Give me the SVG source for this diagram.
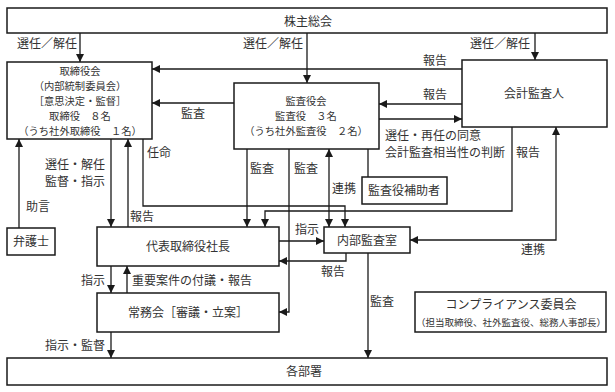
<svg xmlns="http://www.w3.org/2000/svg" width="615" height="392" viewBox="0 0 615 392">
<defs>
<style>
.box{fill:#fff;stroke:#1a1a1a;stroke-width:1.5}
.ln{fill:none;stroke:#1a1a1a;stroke-width:1.3}
.a{marker-end:url(#ah)}
.b{marker-start:url(#ah);marker-end:url(#ah)}
text{font-family:"Noto Sans CJK JP","Noto Sans CJK SC",sans-serif;font-size:12px;fill:#333}
.c{text-anchor:middle}
.s{font-size:10.3px}
.t{font-size:9.5px}
</style>
<marker id="ah" viewBox="0 0 10 10" refX="10" refY="5" markerWidth="8" markerHeight="8" orient="auto-start-reverse" markerUnits="userSpaceOnUse">
<path d="M0,0 L10,5 L0,10 z" fill="#1a1a1a"/>
</marker>
</defs>
<rect width="615" height="392" fill="#fff"/>

<g id="connectors">
<path class="ln a" d="M80,33 V62"/>
<path class="ln a" d="M307,33 V83"/>
<path class="ln a" d="M535,33 V60"/>
<path class="ln a" d="M462,69 H152"/>
<path class="ln a" d="M234,103 H152"/>
<path class="ln a" d="M462,104 H379"/>
<path class="ln a" d="M379,119 H462"/>
<path class="ln a" d="M512,127 V211 H265 V227"/>
<path class="ln b" d="M556,127 V240 H410"/>
<path class="ln b" d="M329,149 V227"/>
<path class="ln" d="M368,149 V177"/>
<path class="ln a" d="M247,149 V227"/>
<path class="ln a" d="M289,149 V312 H279"/>
<path class="ln a" d="M279,241 H324"/>
<path class="ln a" d="M346,253 V261 H279"/>
<path class="ln a" d="M143,139 V206 H345 V227"/>
<path class="ln a" d="M111,139 V227"/>
<path class="ln a" d="M128,227 V139"/>
<path class="ln a" d="M19,228 V139"/>
<path class="ln a" d="M111,266 V293"/>
<path class="ln a" d="M127,293 V266"/>
<path class="ln a" d="M111,332 V358"/>
<path class="ln a" d="M368,253 V358"/>
</g>

<g id="labels">
<text class="c" x="47" y="48">選任／解任</text>
<text class="c" x="273" y="48">選任／解任</text>
<text class="c" x="500" y="48">選任／解任</text>
<text class="c" x="435" y="65">報告</text>
<text class="c" x="435" y="99">報告</text>
<text class="c" x="193" y="118">監査</text>
<text x="385" y="140">選任・再任の同意</text>
<text x="385" y="157">会計監査相当性の判断</text>
<text class="c" x="528" y="157">報告</text>
<text class="c" x="262" y="173">監査</text>
<text class="c" x="306" y="173">監査</text>
<text class="c" x="344" y="193">連携</text>
<text class="c" x="159" y="157">任命</text>
<text class="c" x="75" y="169">選任・解任</text>
<text class="c" x="75" y="186">監督・指示</text>
<text class="c" x="38" y="211">助言</text>
<text class="c" x="142" y="221">報告</text>
<text class="c" x="307" y="234">指示</text>
<text class="c" x="333" y="276">報告</text>
<text class="c" x="533" y="254">連携</text>
<text class="c" x="93" y="285">指示</text>
<text x="132" y="285">重要案件の付議・報告</text>
<text class="c" x="75" y="350">指示・監督</text>
<text class="c" x="382" y="306">監査</text>
</g>

<g id="shareholders">
<rect class="box" x="7" y="8" width="600" height="25"/>
<text class="c" x="308" y="25.5">株主総会</text>
</g>

<g id="board">
<rect class="box" x="7" y="62" width="145" height="77"/>
<text class="c s" x="80" y="74.5">取締役会</text>
<text class="c s" x="80" y="89.5">（内部統制委員会）</text>
<text class="c s" x="80" y="104.5">［意思決定・監督］</text>
<text class="c s" x="80" y="119.5">取締役　８名</text>
<text class="c s" x="80" y="134.5">（うち社外取締役　１名）</text>
</g>

<g id="auditboard">
<rect class="box" x="234" y="83" width="145" height="66"/>
<text class="c s" x="306" y="105">監査役会</text>
<text class="c s" x="306" y="120">監査役　３名</text>
<text class="c s" x="306" y="135">（うち社外監査役　２名）</text>
</g>

<g id="accountant">
<rect class="box" x="462" y="60" width="145" height="67"/>
<text class="c" x="534" y="98">会計監査人</text>
</g>

<g id="auditassistant">
<rect class="box" x="362" y="177" width="85" height="27"/>
<text class="c" x="404" y="195">監査役補助者</text>
</g>

<g id="lawyer">
<rect class="box" x="7" y="228" width="48" height="27"/>
<text class="c" x="31" y="246">弁護士</text>
</g>

<g id="president">
<rect class="box" x="97" y="227" width="182" height="39"/>
<text class="c" x="188" y="251">代表取締役社長</text>
</g>

<g id="internalaudit">
<rect class="box" x="324" y="227" width="86" height="26"/>
<text class="c" x="367" y="244.5">内部監査室</text>
</g>

<g id="executive">
<rect class="box" x="97" y="293" width="182" height="39"/>
<text class="c" x="188" y="316.5">常務会［審議・立案］</text>
</g>

<g id="compliance">
<rect class="box" x="415" y="292" width="191" height="40"/>
<text class="c" x="511" y="309">コンプライアンス委員会</text>
<text class="c t" x="511" y="326">（担当取締役、社外監査役、総務人事部長）</text>
</g>

<g id="departments">
<rect class="box" x="7" y="358" width="600" height="27"/>
<text class="c" x="304" y="376">各部署</text>
</g>
</svg>
